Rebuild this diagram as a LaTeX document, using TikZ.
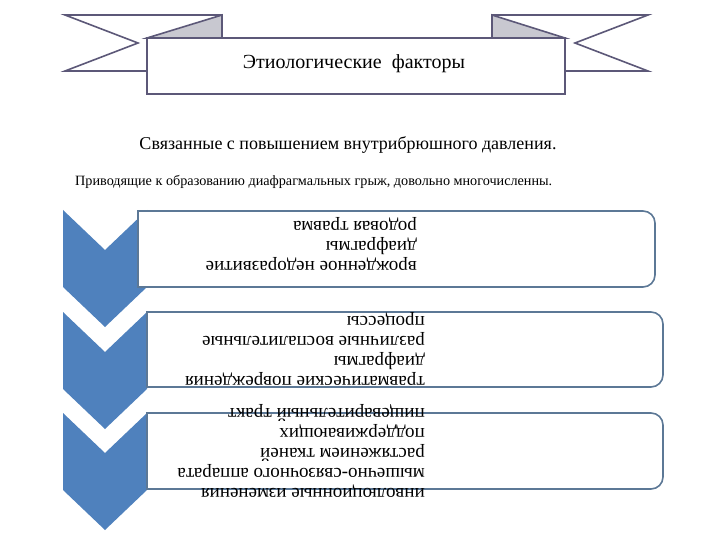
\documentclass[tikz,border=0pt]{standalone}
\usepackage{fontspec}
\setmainfont{Liberation Serif}
\definecolor{banline}{RGB}{92,88,120}
\definecolor{banfold}{RGB}{200,200,208}
\definecolor{chev}{RGB}{79,129,189}
\definecolor{boxline}{RGB}{92,120,150}
\tikzset{
  banpart/.style={draw=banline, line width=1.6pt, fill=white, line join=miter},
  foldpart/.style={draw=banline, line width=1.6pt, fill=banfold},
  chevshape/.style={fill=chev, draw=none},
  listbox/.style={draw=boxline, line width=1.6pt, fill=white},
  boxtext/.style={rotate=180, anchor=north west, inner sep=0pt, align=left,
    font=\fontsize{19}{20}\selectfont},
}
\begin{document}
\begin{tikzpicture}[x=1pt,y=-1pt]
\useasboundingbox (0,0) rectangle (720,540);
% banner tails
\draw[banpart] (65,15) -- (222,15) -- (222,71) -- (65,71) -- (138,43) -- cycle;
\draw[banpart] (648,15) -- (492,15) -- (492,71) -- (648,71) -- (575,43) -- cycle;
\draw[foldpart] (147,38) -- (222,15) -- (222,38) -- cycle;
\draw[foldpart] (492,15) -- (565,38) -- (492,38) -- cycle;
\draw[banpart] (147,38) rectangle (565,94);
\node[font=\fontsize{20}{22}\selectfont] (title) at (354,64) {Этиологические\ \ факторы};
% headings
\node[font=\fontsize{18}{20}\selectfont] (sub1) at (348,145) {Связанные с повышением внутрибрюшного давления.};
\node[font=\fontsize{14.2}{16}\selectfont, anchor=west, inner sep=0pt] (sub2) at (75,182) {Приводящие к образованию диафрагмальных грыж, довольно многочисленны.};
% chevrons
\foreach \t/\n in {210/c1,312/c2,413/c3}{
  \fill[chevshape] (63,\t) -- (105,\t+40) -- (147,\t) -- (147,\t+77) -- (105,\t+117) -- (63,\t+77) -- cycle;
}
% boxes
\draw[listbox] (138,211) -- (643,211) arc[start angle=-90,end angle=0,x radius=12pt,y radius=-12pt] -- (655,275) arc[start angle=0,end angle=90,x radius=12pt,y radius=-12pt] -- (138,287) -- cycle;
\draw[listbox] (147,312) -- (651,312) arc[start angle=-90,end angle=0,x radius=12pt,y radius=-12pt] -- (663,375) arc[start angle=0,end angle=90,x radius=12pt,y radius=-12pt] -- (147,387) -- cycle;
\draw[listbox] (147,413) -- (651,413) arc[start angle=-90,end angle=0,x radius=12pt,y radius=-12pt] -- (663,477) arc[start angle=0,end angle=90,x radius=12pt,y radius=-12pt] -- (147,489) -- cycle;
% box texts (upside down)
\node[boxtext] (t1) at (417,271) {врожденное недоразвитие\\диафрагмы\\родовая травма};
\node[boxtext] (t2) at (425,386) {травматические повреждения\\диафрагмы\\различные воспалительные\\процессы};
\node[boxtext] (t3) at (425,498) {инволюционные изменения\\мышечно-связочного аппарата\\растяжением тканей\\поддерживающих\\пищеварительный тракт};
\end{tikzpicture}
\end{document}
